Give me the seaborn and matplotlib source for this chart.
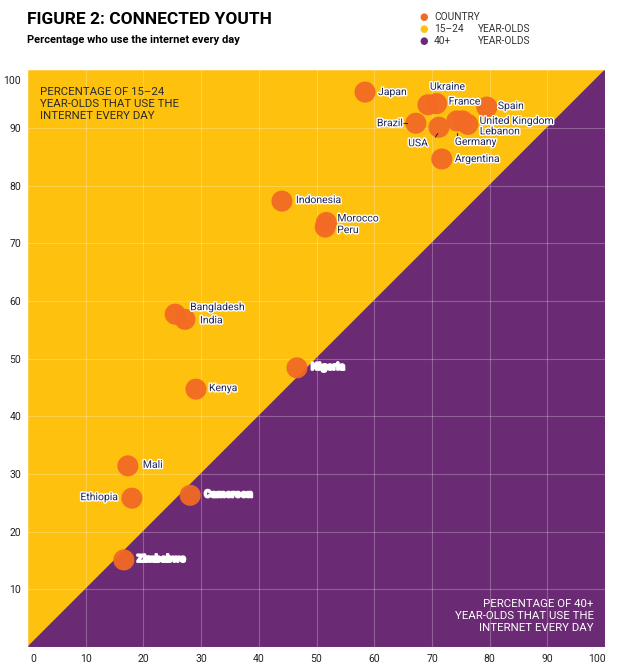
import seaborn as sns
import matplotlib.pyplot as plt
import matplotlib.patheffects as pe
import matplotlib.transforms as mtrans
import pandas as pd

## ____data
countries = ["Japan", "Ukraine", "France", "Spain", "Brazil", "USA",
             "Germany", "United Kingdom", "Lebanon", "Argentina",
             "Indonesia", "Morocco", "Peru", "Bangladesh", "India",
             "Nigeria", "Kenya", "Mali", "Ethiopia", "Cameroon", "Zimbabwe"]
over40 = [58.4, 69.3, 70.8, 79.5, 67.2, 71.2,
          74.3, 75.3, 76.2, 71.7,
          44.0, 51.7, 51.5, 25.5, 27.2,
          46.6, 29.1, 17.3, 18.0, 28.1, 16.6]
youth = [96.2, 94.0, 94.2, 93.6, 90.8, 90.1,
         91.2, 91.2, 90.6, 84.6,
         77.3, 73.6, 72.8, 57.7, 56.8,
         48.4, 44.7, 31.4, 25.8, 26.3, 15.1]
ticks = list(range(0, 101, 10))

df = pd.DataFrame({"country": countries, "over40": over40, "youth": youth})

# label offsets in pixels (dx, dy, ha)
offsets = {
    "Japan": (13, 0, "left"), "Ukraine": (2, 18, "left"), "France": (12, 2, "left"),
    "Spain": (11, 1, "left"), "Brazil": (-13, 0, "right"), "USA": (-21, -16, "center"),
    "Germany": (-2, -21, "left"), "United Kingdom": (17, 0, "left"),
    "Lebanon": (12, -7, "left"), "Argentina": (13, 0, "left"),
    "Indonesia": (14, 1, "left"), "Morocco": (11, 4, "left"), "Peru": (12, -3, "left"),
    "Bangladesh": (15, 7, "left"), "India": (15, -1, "left"),
    "Nigeria": (14, 1, "left"), "Kenya": (13, 1, "left"), "Mali": (15, 1, "left"),
    "Ethiopia": (-14, 1, "right"), "Cameroon": (14, 1, "left"), "Zimbabwe": (13, 1, "left"),
}
white_labels = ["Nigeria", "Cameroon", "Zimbabwe"]

YELLOW = "#FEC10E"
PURPLE = "#6B2A74"
ORANGE = "#F26A24"
NAVY = "#1E2757"

sns.set_theme(style="white")
plt.rcParams["font.family"] = ["Roboto", "DejaVu Sans"]

fig = plt.figure(figsize=(6.28, 6.70), dpi=100)
ax = fig.add_axes([0.0446, 0.0343, 0.919, 0.861])

## ____background triangles
ax.fill([0, 0, 1], [0, 1, 1], color=YELLOW, transform=ax.transAxes, zorder=0)
ax.fill([0, 1, 1], [0, 1, 0], color=PURPLE, transform=ax.transAxes, zorder=0)

sns.scatterplot(data=df, x="over40", y="youth", color=ORANGE, s=230,
                edgecolor="none", alpha=0.95, ax=ax, zorder=3)

for _, r in df.iterrows():
    dx, dy, ha = offsets[r.country]
    if r.country in white_labels:
        ax.annotate(r.country, (r.over40, r.youth), xytext=(dx, dy),
                    textcoords="offset pixels", ha=ha, va="center",
                    fontsize=7.5, color="white", fontweight="bold", zorder=5,
                    path_effects=[pe.withStroke(linewidth=1.5, foreground="white")])
    else:
        ax.annotate(r.country, (r.over40, r.youth), xytext=(dx, dy),
                    textcoords="offset pixels", ha=ha, va="center",
                    fontsize=7.5, color=NAVY, zorder=5,
                    path_effects=[pe.withStroke(linewidth=2, foreground="white")])

# leader lines
ax.plot([67.2 - 2.3, 67.2 - 1.6], [90.8, 90.8], color=NAVY, lw=0.8, zorder=4)
ax.plot([70.6, 71.0], [88.4, 89.0], color=NAVY, lw=0.8, zorder=4)
ax.plot([74.3, 74.3], [89.1, 88.5], color=NAVY, lw=0.8, zorder=4)

ax.set_xlim(0, 100)
ax.set_ylim(0, 100)
ax.set_xticks(ticks)
ax.set_yticks(ticks)
ax.set_xticklabels([str(t) for t in ticks])
ax.set_yticklabels(["" if t == 0 else str(t) for t in ticks])
ax.grid(True, color="white", alpha=0.25, lw=0.8, zorder=1)
ax.set_axisbelow(False)
for s in ax.spines.values():
    s.set_visible(False)
ax.tick_params(length=0, labelsize=7.5, colors="#222222", pad=5)
ax.set_xlabel("")
ax.set_ylabel("")

# nudge the end labels inward like the original
xl = ax.get_xticklabels()
xl[0].set_transform(xl[0].get_transform() + mtrans.ScaledTranslation(5 / 100, 0, fig.dpi_scale_trans))
xl[-1].set_transform(xl[-1].get_transform() + mtrans.ScaledTranslation(-8 / 100, 0, fig.dpi_scale_trans))
yl = ax.get_yticklabels()
yl[-1].set_transform(yl[-1].get_transform() + mtrans.ScaledTranslation(0, -10 / 100, fig.dpi_scale_trans))

ax.text(0.02, 0.97, "PERCENTAGE OF 15\u201324\nYEAR-OLDS THAT USE THE\nINTERNET EVERY DAY",
        transform=ax.transAxes, ha="left", va="top", fontsize=8.2, color="#2a2a2a",
        linespacing=1.2, zorder=5)
ax.text(0.98, 0.025, "PERCENTAGE OF 40+\nYEAR-OLDS THAT USE THE\nINTERNET EVERY DAY",
        transform=ax.transAxes, ha="right", va="bottom", fontsize=8.2, color="white",
        linespacing=1.2, multialignment="right", zorder=5)

## ____titles
fig.text(27 / 628, 1 - 19 / 670, "FIGURE 2: CONNECTED YOUTH", fontsize=12.5,
         fontweight="bold", color="black", va="center", ha="left")
fig.text(27 / 628, 1 - 40 / 670, "Percentage who use the internet every day",
         fontsize=8, fontweight="semibold", color="black", va="center", ha="left")

## ____legend
leg = [(ORANGE, "COUNTRY", ""), (YELLOW, "15\u201324", "YEAR-OLDS"), (PURPLE, "40+", "YEAR-OLDS")]
for i, (c, a, b) in enumerate(leg):
    yy = 1 - (17 + 12 * i) / 670
    fig.text(424 / 628, yy, "\u25CF", color=c, fontsize=7, va="center", ha="center")
    fig.text(434 / 628, yy, a, fontsize=7.3, color="#333333", va="center", ha="left")
    if b:
        fig.text(478 / 628, yy, b, fontsize=7.3, color="#333333", va="center", ha="left")

plt.savefig("out.png", dpi=100)
